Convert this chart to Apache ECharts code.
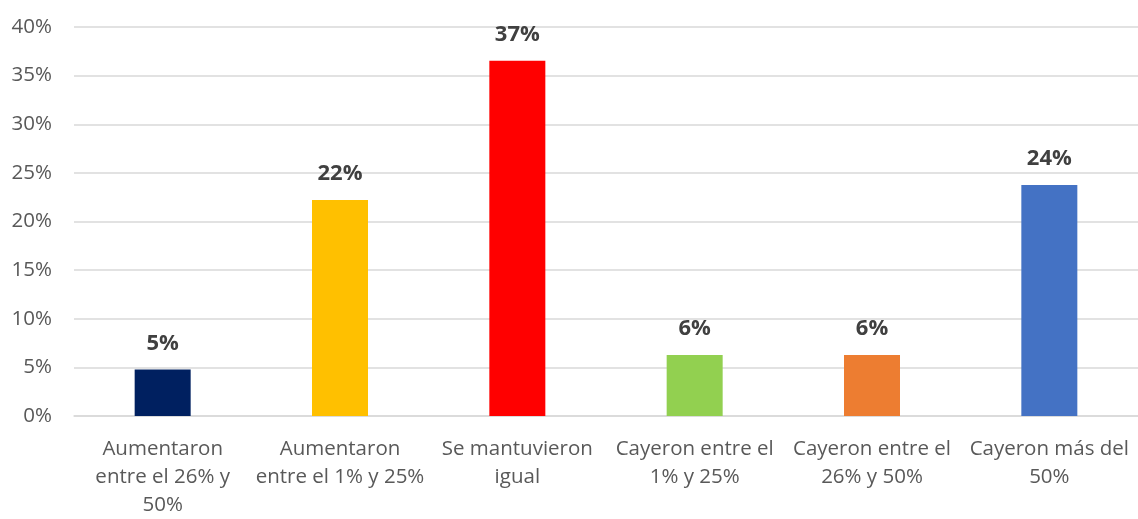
<!DOCTYPE html>
<html><head><meta charset="utf-8">
<script src="https://cdn.jsdelivr.net/npm/echarts@6/dist/echarts.min.js"></script>
<style>html,body{margin:0;padding:0;background:#fff}#c{width:1138px;height:519px}</style>
</head><body><div id="c"></div>
<script>
const categories = [
  "Aumentaron\nentre el 26% y\n50%",
  "Aumentaron\nentre el 1% y 25%",
  "Se mantuvieron\nigual",
  "Cayeron entre el\n1% y 25%",
  "Cayeron entre el\n26% y 50%",
  "Cayeron más del\n50%"
];
const values = [4.77, 22.2, 36.53, 6.27, 6.27, 23.75];
const barColors = ["#002060", "#FFC000", "#FF0000", "#92D050", "#ED7D31", "#4472C4"];
const yTicks = [0, 5, 10, 15, 20, 25, 30, 35, 40];

const font = "'Open Sans', sans-serif";
const chart = echarts.init(document.getElementById('c'));
chart.setOption({
  animation: false,
  grid: {left: 74, right: -4, top: 27, bottom: 98, containLabel: false},
  xAxis: {
    type: 'category', data: categories,
    axisLine: {lineStyle: {color: '#d9d9d9', width: 1.5}},
    axisTick: {show: false},
    axisLabel: {color: '#595959', fontSize: 20.5, fontFamily: font, lineHeight: 28, margin: 19, interval: 0}
  },
  yAxis: {
    type: 'value', min: yTicks[0], max: yTicks[yTicks.length - 1], interval: 5,
    axisLine: {show: false}, axisTick: {show: false},
    splitLine: {lineStyle: {color: '#d9d9d9', width: 1.5}},
    axisLabel: {color: '#595959', fontSize: 20.5, fontFamily: font, margin: 22, formatter: v => v + '%'}
  },
  series: [{
    type: 'bar', barWidth: 56,
    data: values.map((v, i) => ({value: v, itemStyle: {color: barColors[i]}})),
    label: {show: true, position: 'top', distance: 15, color: '#404040', fontSize: 22, fontWeight: 'bold', fontFamily: font,
      formatter: p => Math.round(p.value) + '%'}
  }]
});
</script></body></html>
